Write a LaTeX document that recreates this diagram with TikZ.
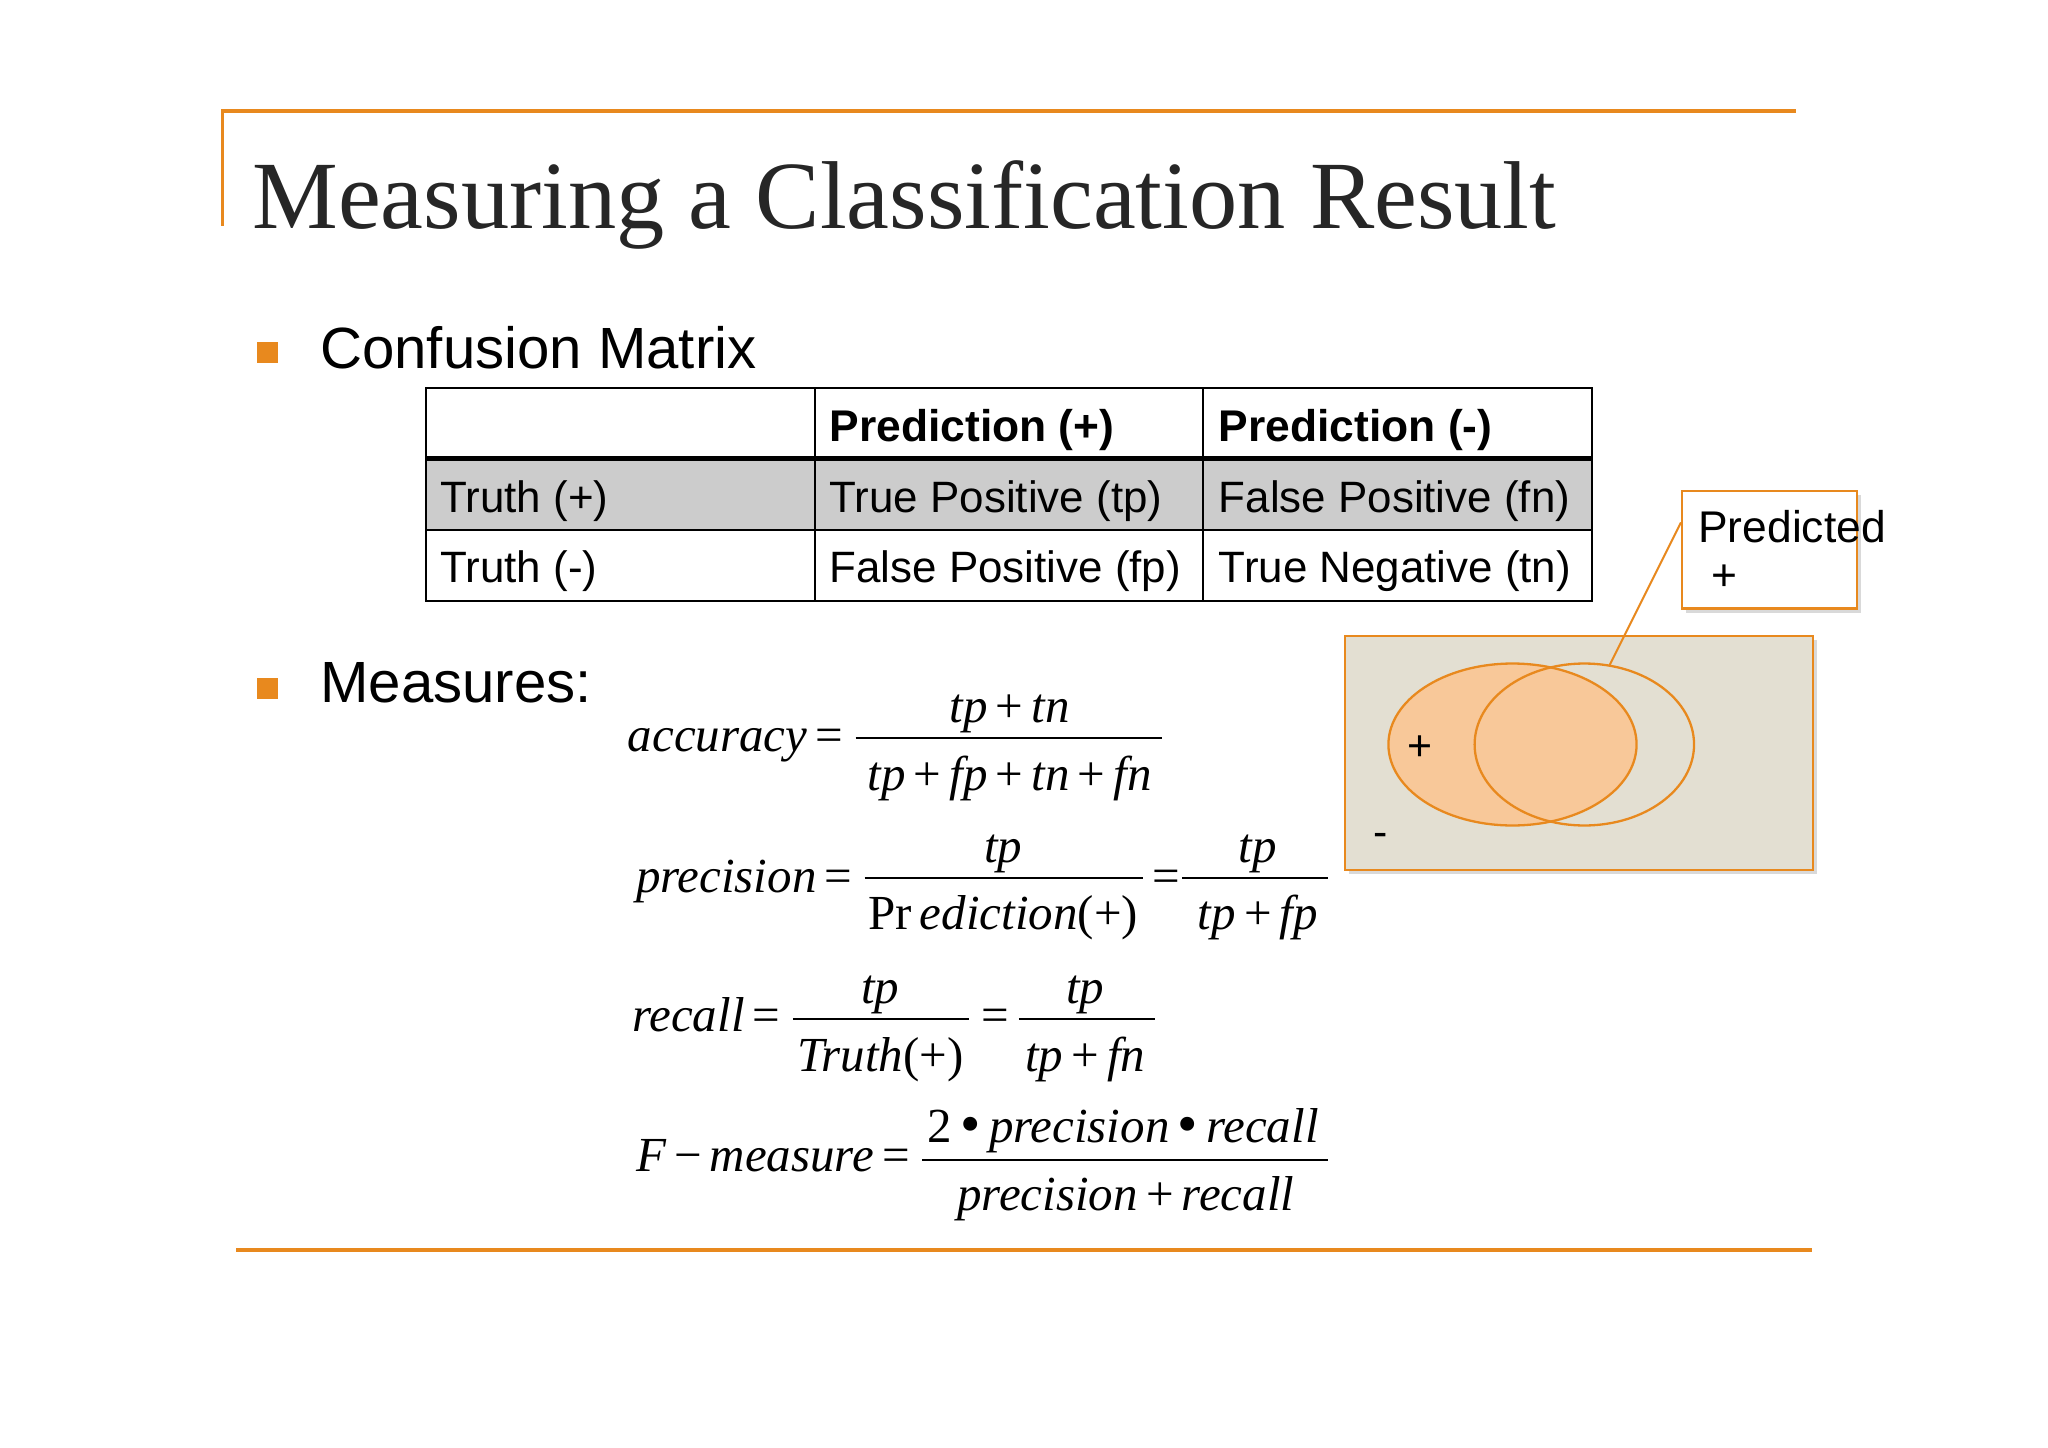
\documentclass[tikz,border=0pt]{standalone}
\usepackage{fontspec}
\setmainfont{Liberation Sans}
\newfontfamily\tm{Liberation Serif}
\usetikzlibrary{shadows}
\definecolor{org}{HTML}{E8891E}
\definecolor{vfill}{HTML}{F8C899}
\definecolor{bg}{HTML}{E3DFD2}
\newcommand\eqs{\,\upshape=\,}
\newcommand\pls{\,\upshape+\,\itshape}
\newcommand\bul{\,\raisebox{-0.02em}{\upshape\fontsize{38}{38}\selectfont•}\,}
\tikzset{
 tbl/.style={anchor=base west,font=\fontsize{28.7}{28.7}\selectfont},
 mt/.style={anchor=base,font=\tm\itshape\fontsize{32}{32}\selectfont,inner sep=0},
 ml/.style={anchor=base east,font=\tm\itshape\fontsize{32}{32}\selectfont,inner sep=0},
 fl/.style={line width=1.2pt}
}
\begin{document}
\begin{tikzpicture}[x=0.03cm,y=-0.03cm]
\useasboundingbox (0,0) rectangle (1568,1108);
\draw[org,line width=2pt] (170,173) -- (170,85) -- (1375,85);
\draw[org,line width=2pt] (181,957) -- (1387,957);
\node[anchor=base west,inner sep=0,font=\tm\fontsize{63}{63}\selectfont,text=black!85] (title) at (193,175) {Measuring a Classification Result};
\fill[org] (197,262) rectangle (213,278);
\fill[org] (197,519) rectangle (213,535);
\node[anchor=base west,inner sep=0,font=\fontsize{38}{38}\selectfont] (cm) at (245,282) {Confusion Matrix};
\node[anchor=base west,inner sep=0,font=\fontsize{38}{38}\selectfont] (ms) at (245,538) {Measures:};
% table
\fill[black!20] (326,351) rectangle (1219,406);
\draw[line width=1.2pt] (326,297) rectangle (1219,460);
\draw[line width=1.2pt] (624,297) -- (624,460) (921,297) -- (921,460) (326,406) -- (1219,406);
\draw[line width=3pt] (326,351) -- (1219,351);
\node[tbl,font=\bfseries\fontsize{29}{29}\selectfont] at (631,338) {Prediction (+)};
\node[tbl,font=\bfseries\fontsize{29}{29}\selectfont] at (929,338) {Prediction (-)};
\node[tbl] at (333,392) {Truth (+)};
\node[tbl] at (631,392) {True Positive (tp)};
\node[tbl] at (929,392) {False Positive (fn)};
\node[tbl] at (333,446) {Truth (-)};
\node[tbl] at (631,446) {False Positive (fp)};
\node[tbl] at (929,446) {True Negative (tn)};
% accuracy
\node[ml] (acc) at (652,575) {accuracy\eqs};
\draw[fl] (655,565) -- (890,565);
\node[mt] at (773,553) {tp\pls tn};
\node[mt] at (773,605) {tp\pls fp\pls tn\pls fn};
% precision
\node[ml] (prec) at (659,683) {precision\eqs};
\draw[fl] (662,672) -- (875,672);
\node[mt] at (768,660) {tp};
\node[mt] at (768,712) {{\upshape Pr}\,ediction{\upshape(+)}};
\node[mt] at (893,683) {\upshape=};
\draw[fl] (905,672) -- (1017,672);
\node[mt] at (963,660) {tp};
\node[mt] at (963,712) {tp\pls fp};
% recall
\node[ml] (rec) at (604,790) {recall\eqs};
\draw[fl] (607,780) -- (742,780);
\node[mt] at (674,768) {tp};
\node[mt] at (674,820) {Truth{\upshape(+)}};
\node[mt] at (762,790) {\upshape=};
\draw[fl] (780,780) -- (884,780);
\node[mt] at (831,768) {tp};
\node[mt] at (831,820) {tp\pls fn};
% F
\node[ml] (fm) at (703,897) {F\,\upshape−\,\itshape measure\eqs};
\draw[fl] (706,888) -- (1017,888);
\node[mt] at (860,875) {{\upshape 2}\bul precision\bul recall};
\node[mt] at (862,927) {precision\pls recall};
% venn
\draw[org,line width=1.5pt,fill=bg,drop shadow={opacity=0.3}] (1030,487) rectangle (1388,666);
\draw[org,line width=1.5pt,fill=vfill] (1158,570) ellipse [x radius=95,y radius=62];
\draw[org,line width=1.5pt] (1213,570) ellipse [x radius=84,y radius=62];
\node[anchor=base,font=\fontsize{28}{28}\selectfont] (plus) at (1087,582) {+};
\node[anchor=base,font=\fontsize{28}{28}\selectfont] (minus) at (1057,648) {-};
\node[draw=org,line width=1.5pt,fill=white,minimum width=134*0.03cm,minimum height=90*0.03cm,anchor=north west,drop shadow={opacity=0.3}] (call) at (1287,375) {};
\node[anchor=base west,inner sep=0,font=\fontsize{29}{29}\selectfont] (pt) at (1300,415) {Predicted};
\node[anchor=base west,inner sep=0,font=\fontsize{29}{29}\selectfont] (pp) at (1310,452) {+};
\coordinate (tip) at (1232,510);
\draw[org,line width=1.3pt] (1287,400) -- (tip);
\end{tikzpicture}
\end{document}
